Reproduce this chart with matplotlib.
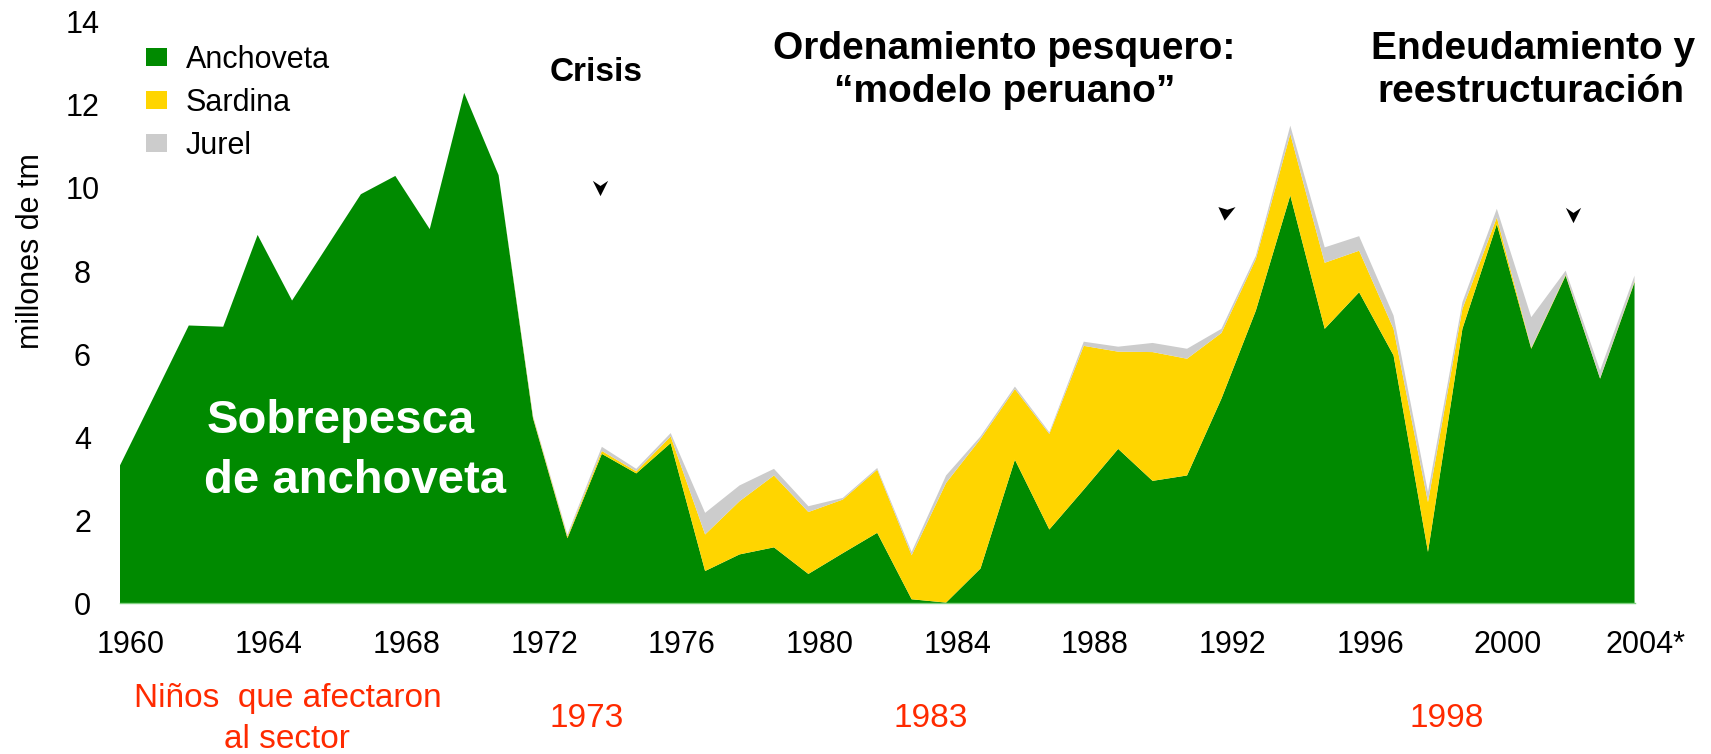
import matplotlib
matplotlib.use('Agg')
import numpy as np
import matplotlib.pyplot as plt
from matplotlib.path import Path
from matplotlib.transforms import ScaledTranslation

plt.rcParams['font.family'] = ['Liberation Sans', 'DejaVu Sans']

years = list(range(1960, 2005))
anchoveta = [3.32, 5.0, 6.69, 6.66, 8.87, 7.29, 8.57, 9.85, 10.29, 9.01,
             12.29, 10.31, 4.46, 1.57, 3.6, 3.13, 3.86, 0.78, 1.18, 1.35,
             0.71, 1.21, 1.70, 0.10, 0.02, 0.84, 3.46, 1.78, 2.74, 3.72,
             2.95, 3.08, 4.93, 7.05, 9.82, 6.61, 7.49, 5.97, 1.24, 6.61,
             9.13, 6.13, 7.89, 5.41, 7.73]
sardina = [0, 0, 0, 0, 0, 0, 0, 0, 0, 0,
           0, 0, 0.03, 0.04, 0.07, 0.05, 0.16, 0.88, 1.28, 1.73,
           1.49, 1.29, 1.52, 1.06, 2.88, 3.12, 1.70, 2.30, 3.46, 2.34,
           3.10, 2.81, 1.58, 1.24, 1.48, 1.59, 1.00, 0.64, 1.20, 0.48,
           0.16, 0.02, 0.02, 0.01, 0.02]
jurel = [0, 0, 0, 0, 0, 0, 0, 0, 0, 0,
         0, 0, 0.03, 0.05, 0.10, 0.06, 0.08, 0.52, 0.38, 0.16,
         0.14, 0.04, 0.04, 0.08, 0.18, 0.06, 0.06, 0.04, 0.10, 0.12,
         0.22, 0.24, 0.10, 0.08, 0.20, 0.37, 0.35, 0.32, 0.24, 0.16,
         0.21, 0.74, 0.10, 0.19, 0.14]
series_names = ['Anchoveta', 'Sardina', 'Jurel']
colors = ['#008A00', '#FFD500', '#CCCCCC']

tick_years = list(range(1960, 2005, 4))
tick_labels = [str(y) for y in tick_years[:-1]] + ['2004*']
nino_years = [1973, 1983, 1998]

fig = plt.figure(figsize=(17.11, 7.54), dpi=100)
ax = fig.add_axes([0.0701, 0.1997, 0.8852, 0.7714])

ax.stackplot(years, anchoveta, sardina, jurel, colors=colors,
             labels=series_names, linewidth=0)
ax.set_xlim(1960, 2004)
ax.set_ylim(0, 14)
ax.set_yticks(range(0, 15, 2))
ax.set_xticks(tick_years)
ax.set_xticklabels(tick_labels)
ax.tick_params(length=0, labelsize=22)
ax.tick_params(axis='x', pad=19)
ax.tick_params(axis='y', pad=27)
for lab in ax.get_yticklabels():
    lab.set_horizontalalignment('center')
shift = ScaledTranslation(11 / 100, 0, fig.dpi_scale_trans)
for lab in ax.get_xticklabels():
    lab.set_transform(lab.get_transform() + shift)
for s in ['top', 'right', 'left']:
    ax.spines[s].set_visible(False)
ax.spines['bottom'].set_color('#7fd07f')
ax.spines['bottom'].set_linewidth(1)

ylab = ax.set_ylabel('millones de tm', fontsize=22)
ylab.set_verticalalignment('center')
ylab.set_horizontalalignment('center')
ax.yaxis.set_label_coords(31 / 1711, 1 - 251 / 754, transform=fig.transFigure)

ax.legend(loc='upper left', bbox_to_anchor=(146 / 1711, 1 - 45 / 754),
          bbox_transform=fig.transFigure, frameon=False, fontsize=22,
          borderpad=0, borderaxespad=0, handlelength=0.7, handleheight=0.55,
          handletextpad=0.6, labelspacing=0.42)

ax.text(1966.42, 4.39, 'Sobrepesca', ha='center', va='center',
        color='white', fontsize=34, fontweight='bold', zorder=5)
ax.text(1966.83, 2.95, 'de anchoveta', ha='center', va='center',
        color='white', fontsize=34, fontweight='bold', zorder=5)
ax.text(1973.82, 12.79, 'Crisis', ha='center', va='center', fontsize=24,
        fontweight='bold')
ax.text(1985.7, 13.34, 'Ordenamiento pesquero:', ha='center', va='center',
        fontsize=28, fontweight='bold')
ax.text(1985.7, 12.32, '\u201cmodelo peruano\u201d', ha='center',
        va='center', fontsize=28, fontweight='bold')
ax.text(2001.06, 13.34, 'Endeudamiento y', ha='center', va='center',
        fontsize=28, fontweight='bold')
ax.text(2001.0, 12.32, 'reestructuraci\u00f3n', ha='center', va='center',
        fontsize=28, fontweight='bold')

# small arrowheads left from the original connector lines
down = Path([(0, -7.5), (-7.5, 7.5), (0, 2.5), (7.5, 7.5), (0, -7.5)],
            [Path.MOVETO, Path.LINETO, Path.LINETO, Path.LINETO, Path.CLOSEPOLY])
skew = Path([(-2, -9), (-9, 6), (1, 3), (10, 6), (-2, -9)],
            [Path.MOVETO, Path.LINETO, Path.LINETO, Path.LINETO, Path.CLOSEPOLY])
ax.plot([1973.94], [10.0], marker=down, markersize=11, color='black',
        mew=0, clip_on=False)
ax.plot([1992.13], [9.42], marker=skew, markersize=13, color='black',
        mew=0, clip_on=False)
ax.plot([2002.2], [9.35], marker=down, markersize=11, color='black',
        mew=0, clip_on=False)

red = '#FF2A00'
ax.text(1964.88, -2.29, 'Ni\u00f1os  que afectaron', ha='center',
        va='center', color=red, fontsize=24, clip_on=False)
ax.text(1964.85, -3.28, 'al sector', ha='center', va='center', color=red,
        fontsize=24, clip_on=False)
for y in nino_years:
    ax.text(y + 0.55, -2.76, str(y), ha='center', va='center', color=red,
            fontsize=24, clip_on=False)

fig.savefig('out.png', dpi=100)
